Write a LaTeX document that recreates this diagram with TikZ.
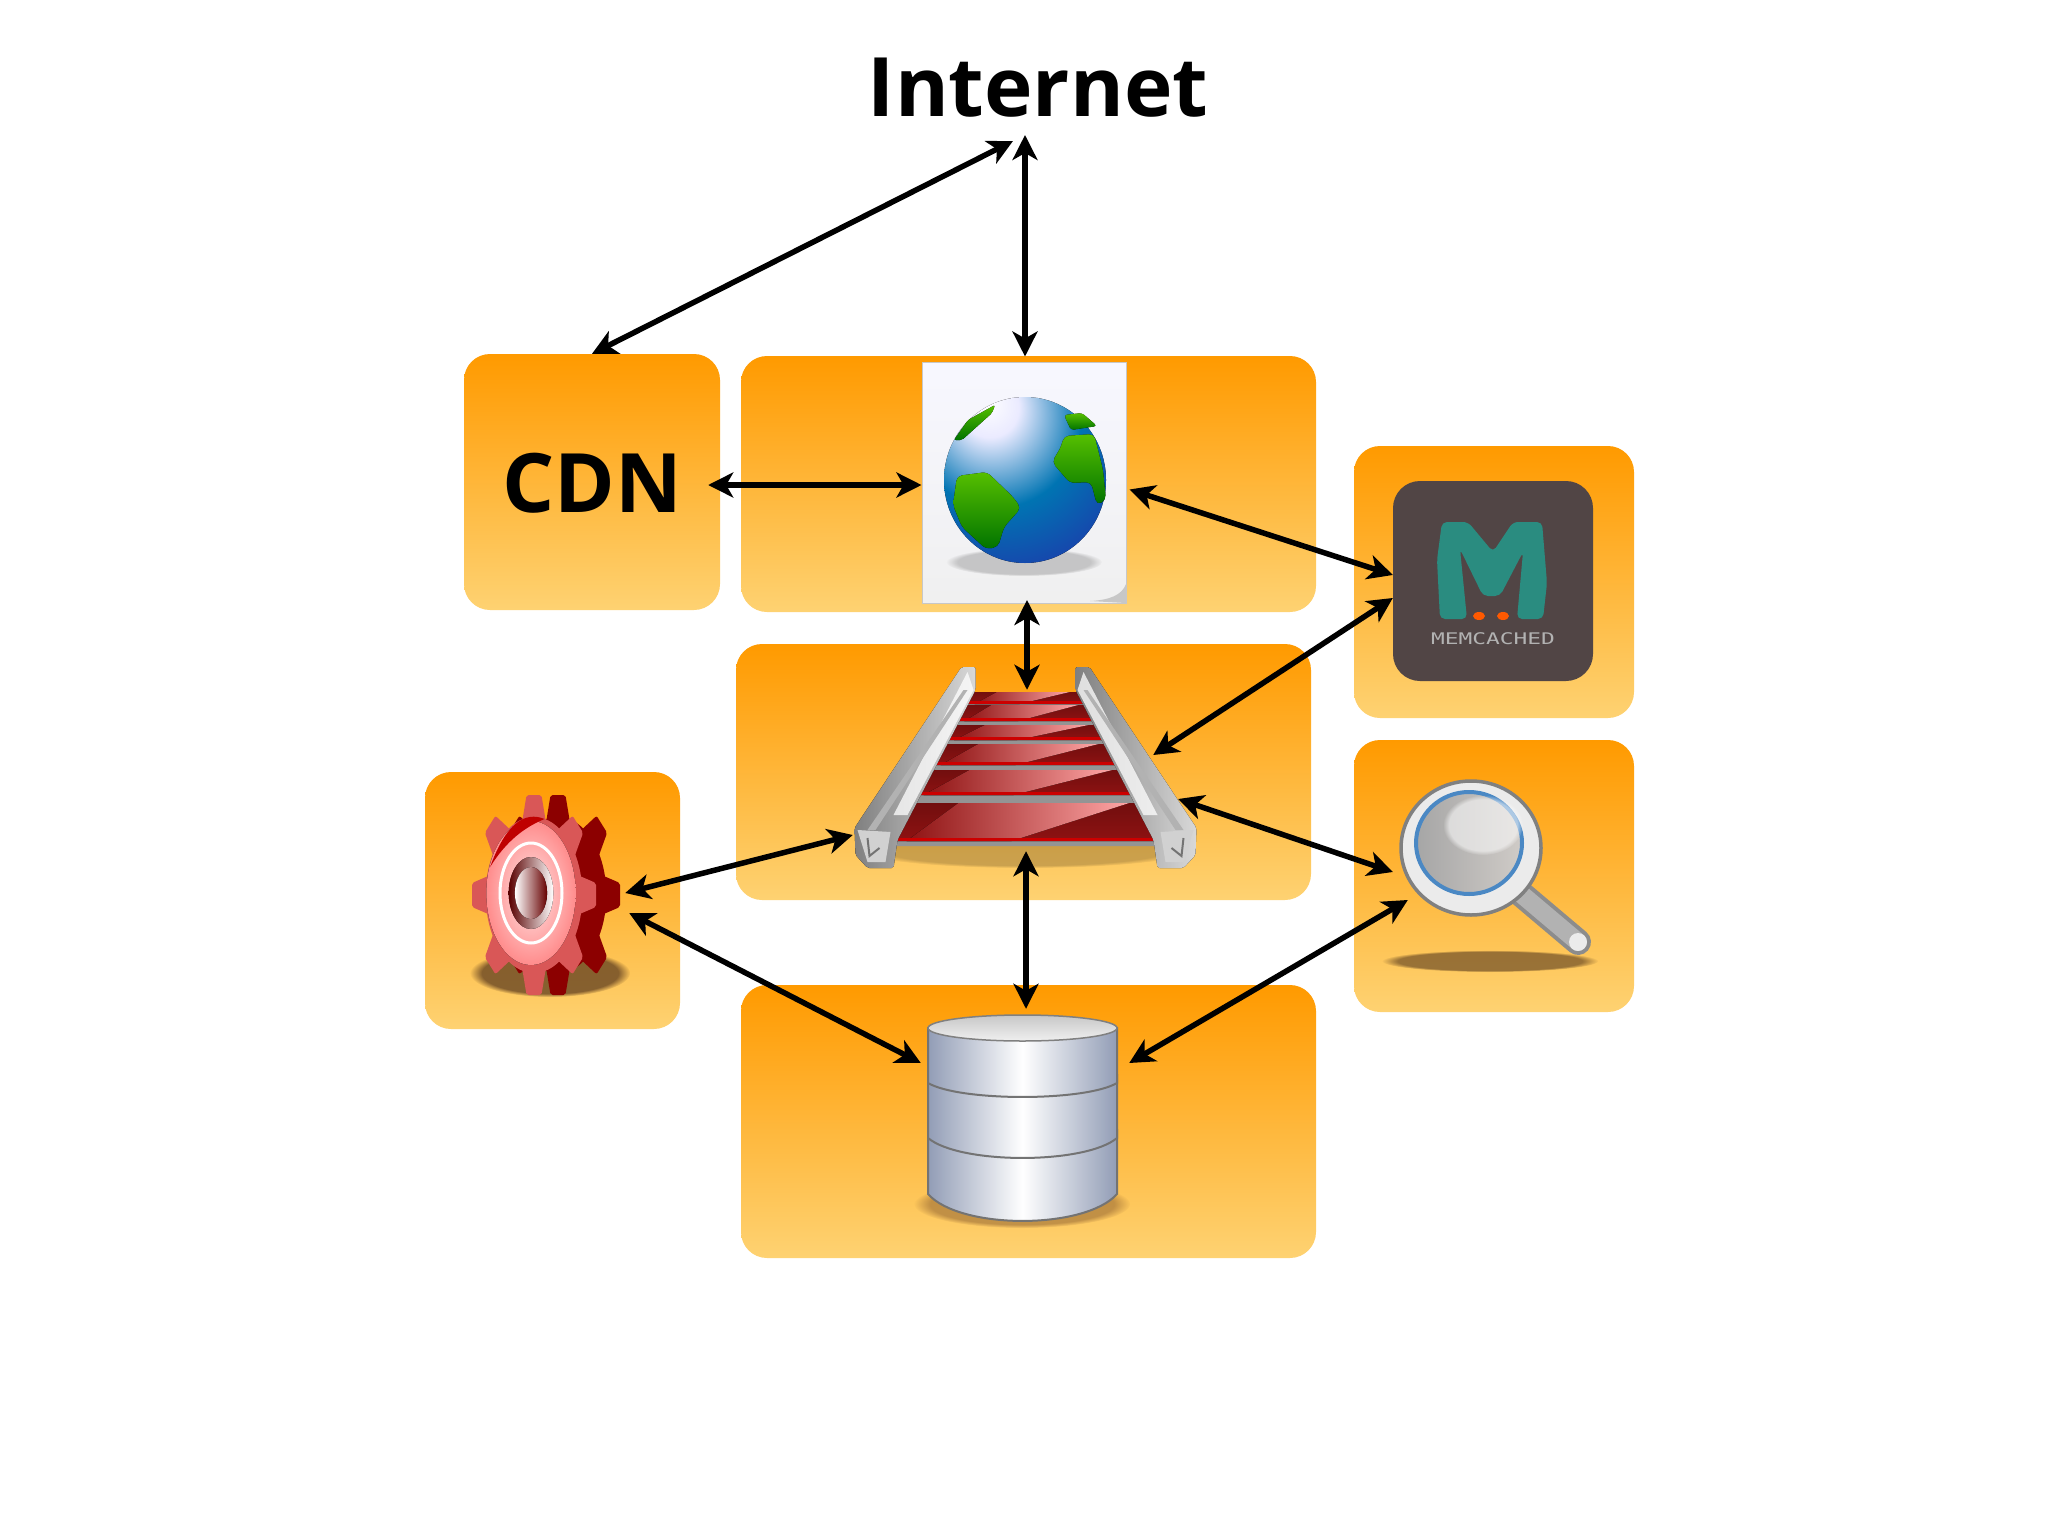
\documentclass[tikz,border=0pt]{standalone}
\usepackage{fontspec}
\setmainfont{Open Sans}
\setmonofont{DejaVu Sans Mono}
\usetikzlibrary{arrows.meta,fadings}
\definecolor{panetop}{HTML}{FF9A00}
\definecolor{panebot}{HTML}{FED272}
\definecolor{slate}{HTML}{514545}
\definecolor{teal}{HTML}{2A8C80}
\definecolor{railred}{HTML}{8E1212}
\definecolor{steel}{HTML}{929DB6}
\definecolor{lensblue}{HTML}{4A88C4}
\pgfdeclareradialshading{globeshade}{\pgfpoint{-12bp}{24bp}}{
  color(0bp)=(white); color(9bp)=(white!92!blue); color(26bp)=(blue!35!cyan!70!black);
  color(52bp)=(blue!60!black!85); color(78bp)=(blue!70!black!55); color(100bp)=(blue!70!black!55)}
\begin{document}
\begin{tikzpicture}[x=1pt,y=-1pt,
  panel/.style={rounded corners=26pt,top color=panetop,bottom color=panebot,inner sep=0pt},
  icon/.style={inner sep=0pt},
  title/.style={font=\fontsize{82}{86}\selectfont\bfseries},
  land/.style={top color=green!55!yellow!75!black,bottom color=green!45!black,rounded corners=5pt},
  soft/.style={path fading=circle with fuzzy edge 15 percent},
  link/.style={<->,>={Stealth[length=25pt,width=25pt,inset=7pt]},line width=5.5pt,black}
  ]
  \useasboundingbox (0,0) rectangle (2048,1536);

  \node[title,inner sep=0pt,anchor=base] (internet) at (1038,117) {Internet};
  \coordinate (netleft) at (1013,141);
  \coordinate (netmid) at (1025,135);

  \node[panel,title,minimum width=256pt,minimum height=256pt,text depth=0pt] (cdn) at (592,482) {\raisebox{-1pt}{CDN}};
  \node[panel,minimum width=575pt,minimum height=256pt] (webpanel) at (1028.5,484) {};
  \node[panel,minimum width=575pt,minimum height=256pt] (railpanel) at (1023.5,772) {};
  \node[panel,minimum width=255pt,minimum height=257pt] (gearpanel) at (552.5,900.5) {};
  \node[panel,minimum width=575pt,minimum height=273pt] (dbpanel) at (1028.5,1121.5) {};
  \node[panel,minimum width=280pt,minimum height=272pt] (cachepanel) at (1494,582) {};
  \node[panel,minimum width=280pt,minimum height=272pt] (searchpanel) at (1494,876) {};

  % page with globe
  \node[icon,minimum width=204pt,minimum height=241pt,draw=black!22,line width=1pt,
    top color=white!97!blue,bottom color=black!6] (webpage) at (1024,482.5) {};
  \fill[black!22] (1126,584) -- (1126,603) -- (1090,601) .. controls (1110,600) and (1122,595) .. cycle;
  \fill[black,opacity=.18,soft] (1024,562) ellipse (78 and 14);
  \fill[shading=globeshade] (1025,480) ellipse (81 and 83);
  \fill[land] (957,476) -- (987,472) -- (1013,497) -- (1021,508) -- (1004,527)
    -- (998,547) -- (986,549) -- (962,527) -- (953,505) -- cycle;
  \fill[land] (1064,436) -- (1094,434) -- (1103,470) -- (1106,500)
    -- (1097,505) -- (1091,482) -- (1070,483) -- (1052,462) -- (1061,447) -- cycle;
  \fill[land,rounded corners=3pt] (1064,415) -- (1082,413) -- (1097,426) -- (1071,430) -- cycle;
  \fill[land,rounded corners=2pt] (995,405) -- (992,413) -- (962,440) -- (954,440) -- (968,420) -- cycle;

  % rails
  \node[icon,minimum width=341pt,minimum height=201pt] (rails) at (1025.5,767.5) {};
  \fill[black,opacity=.2,soft] (1025.5,850) ellipse (165 and 18);
  \foreach \ya/\yb/\wa/\wb/\yc in {692/704/52/60/705,705/721/62/72/725,725/740/74/84/744,744/765/86/100/770,770/795/102/120/803,803/841/122/140/846}{
    \fill[black!42] (1025.5-\wb,\yb) -- (1025.5+\wb,\yb) -- (1025.5+\wb+4,\yc) -- (1025.5-\wb-4,\yc) -- cycle;
    \fill[top color=railred!80!black,bottom color=railred] (1025.5-\wa,\ya) -- (1025.5+\wa,\ya) -- (1025.5+\wb,\yb) -- (1025.5-\wb,\yb) -- cycle;
    \fill[left color=railred,right color=red!35!white] (1025.5-.55*\wa,\ya) -- (1025.5+.85*\wa,\ya) -- (1025.5-.1*\wb,\yb) -- (1025.5-.85*\wb,\yb) -- cycle;
    \fill[red!80!black] (1025.5-\wb,\yb-3) rectangle (1025.5+\wb,\yb);
  }
  \foreach \m in {1,-1}{
    \begin{scope}[shift={(1025.5,0)},xscale=\m]
      \fill[left color=black!50,right color=black!15,rounded corners=2pt] (-64,667) -- (-50,667) -- (-50,690) -- (-128,840)
        -- (-132,868) -- (-158,868) -- (-170,855) -- (-171,828) -- cycle;
      \fill[white,opacity=.75] (-58,672) -- (-52,690) -- (-118,815) -- (-132,815) -- cycle;
      \fill[black!30] (-62,690) -- (-58,690) -- (-150,830) -- (-158,830) -- cycle;
      \fill[black!18] (-168,830) -- (-135,832) -- (-140,862) -- (-158,862) -- cycle;
      \draw[black!55,line width=2pt] (-158,838) -- (-156,856) -- (-146,848);
    \end{scope}
  }

  % gear
  \node[icon,minimum width=153pt,minimum height=200pt] (gear) at (547.5,895) {};
  \fill[brown!55!black,opacity=.8,soft] (550,973) ellipse (80 and 24);
  \foreach \dx/\body in {24/red!55!black,0/red!60!white!85!black}{
    \begin{scope}[shift={(534+\dx,895)},xscale=.62]
      \foreach \a in {0,45,...,315}
        \fill[\body,rotate=\a,rounded corners=2pt] (-20,-70) -- (-12,-100) -- (12,-100) -- (20,-70) -- cycle;
      \fill[\body] (0,0) circle (78);
    \end{scope}
  }
  \begin{scope}[shift={(531,893)},xscale=.62]
    \fill[shading=radial,inner color=red!10!white,outer color=red!45!white] (0,0) circle (72);
    \fill[red!75!black] (-66,-26) .. controls (-40,-70) and (-10,-82) .. (22,-74) .. controls (-10,-66) and (-40,-52) .. cycle;
    \draw[white,line width=3pt] (0,0) circle (50);
    \fill[left color=red!35!black,right color=white] (0,0) circle (36);
    \fill[left color=white,right color=red!40!black] (0,0) circle (26);
  \end{scope}

  % database
  \node[icon,minimum width=189pt,minimum height=206pt] (db) at (1022.5,1118) {};
  \fill[brown!70!black,opacity=.5,soft] (1022,1204) ellipse (108 and 24);
  \foreach \ya/\yb/\sag in {1130/1194/27,1075/1138/20,1028/1083/14}{
    \path[left color=steel,right color=steel,middle color=white,draw=black!55,line width=2pt]
      (928,\ya) -- (928,\yb) .. controls (960,\yb+1.33*\sag) and (1085,\yb+1.33*\sag) .. (1117,\yb) -- (1117,\ya) -- cycle;
  }
  \fill[top color=black!22,bottom color=black!6,draw=black!50,line width=1.5pt] (1022.5,1028) ellipse (94.5 and 13);

  % memcached
  \node[icon,minimum width=200pt,minimum height=200pt,rounded corners=27pt,fill=slate] (cache) at (1493,581) {};
  \fill[teal,rounded corners=5pt] (1440,619) -- (1437,560) -- (1442,522) -- (1468,522) -- (1493,552) -- (1513,522)
    -- (1542,522) -- (1547,583) -- (1543,619) -- (1517,619) -- (1523,552) -- (1500,596) -- (1483,596) -- (1460,549) -- (1467,619) -- cycle;
  \fill[orange!70!red] (1479,616) ellipse (6 and 4) (1503,616) ellipse (6 and 4);
  \node[icon,font=\fontsize{16}{16}\ttfamily,text=black!30] (cachename) at (1493,639) {\scalebox{1.43}[1]{MEMCACHED}};

  % magnifier
  \node[icon,minimum width=183pt,minimum height=190pt] (search) at (1491.5,875) {};
  \fill[brown!45!black,opacity=.6,soft] (1490,961) ellipse (108 and 11);
  \draw[black!45,line width=26pt,line cap=round] (1520,893) -- (1578,942);
  \draw[black!30,line width=18pt,line cap=round] (1520,893) -- (1578,942);
  \fill[black!8] (1578,942) circle (9);
  \fill[white!92!black,draw=black!50,line width=3.5pt] (1471,848) ellipse (70 and 67);
  \fill[left color=black!35,right color=orange!15!black!22,draw=lensblue,line width=4pt] (1469,843) ellipse (53 and 51);
  \fill[white,opacity=.55,soft] (1483,825) ellipse (40 and 30);

  \draw[link] (netleft) -- (cdn.north);
  \draw[link] (netmid) -- ([xshift=1pt,yshift=5pt]webpage.north);
  \draw[link] ([xshift=-12pt,yshift=-3pt]cdn.east) -- ([yshift=-2.5pt]webpage.west);
  \draw[link] ([xshift=3pt,yshift=-7pt]webpage.east) -- ([yshift=6pt]cache.west);
  \draw[link] ([xshift=3pt,yshift=3.5pt]webpage.south) -- ([xshift=1.5pt,yshift=-23pt]rails.north);
  \draw[link] ([yshift=-17pt]cache.west) -- ([xshift=-43pt,yshift=12.5pt]rails.east);
  \draw[link] ([xshift=-18pt,yshift=-31.5pt]rails.east) -- ([xshift=-7pt,yshift=3pt]search.west);
  \draw[link] ([xshift=1pt,yshift=2pt]gear.east) -- ([xshift=-2pt,yshift=-67.5pt]rails.west);
  \draw[link] ([xshift=5pt,yshift=-18pt]gear.east) -- ([xshift=-7pt,yshift=55pt]db.west);
  \draw[link] ([xshift=.5pt,yshift=17pt]rails.south) -- ([xshift=3.5pt,yshift=6pt]db.north);
  \draw[link] ([xshift=12pt,yshift=55pt]db.east) -- ([xshift=8pt,yshift=-25pt]search.west);
\end{tikzpicture}
\end{document}
